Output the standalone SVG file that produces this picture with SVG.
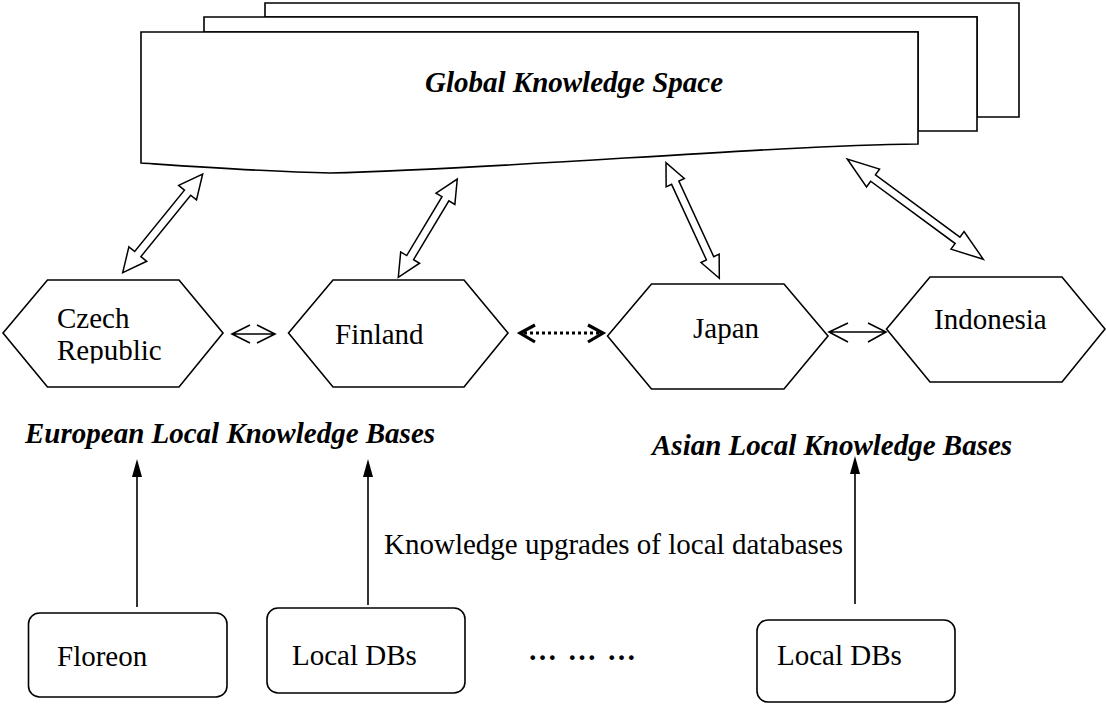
<svg xmlns="http://www.w3.org/2000/svg" width="1106" height="704" viewBox="0 0 1106 704">
<style>
.ln{fill:none;stroke:#000;stroke-width:1.6}
.shape{fill:#fff;stroke:#000;stroke-width:1.6}
.blk{fill:#fff;stroke:#000;stroke-width:1.5;stroke-linejoin:miter}
.t{font-family:"Liberation Serif","Times New Roman",serif;font-size:29px;fill:#000}
.bi{font-weight:bold;font-style:italic}
</style>
<defs>
<clipPath id="czclip"><rect x="0" y="0" width="240" height="363.5"/></clipPath>
</defs>
<g id="global-space">
<path class="shape" d="M265,3 H1019 V117 H977 V17 H265 Z"/>
<path class="shape" d="M204,17 H977 V131 H918 V32 H204 Z"/>
<path class="shape" d="M141,32 H918 V144 C760,146 520,168 330,173 C270,172 200,167 141,163 Z"/>
<text class="t bi" x="425" y="92">Global Knowledge Space</text>
</g>
<g id="connectors">
<path class="blk" transform="translate(122.7,272.7) rotate(-50.97)" d="M0,0 L24,-11.5 L24,-4 L103,-4 L103,-11.5 L127,0 L103,11.5 L103,4 L24,4 L24,11.5 Z"/>
<path class="blk" transform="translate(398.3,277.3) rotate(-59.03)" d="M0,0 L23,-11 L23,-4 L91.6,-4 L91.6,-11 L114.6,0 L91.6,11 L91.6,4 L23,4 L23,11 Z"/>
<path class="blk" transform="translate(719.3,278.3) rotate(-114.75)" d="M0,0 L22,-10 L22,-4 L105.3,-4 L105.3,-10 L127.3,0 L105.3,10 L105.3,4 L22,4 L22,10 Z"/>
<path class="blk" transform="translate(983.3,259.3) rotate(-143.6)" d="M0,0 L32,-11 L32,-4 L137,-4 L137,-11 L169,0 L137,11 L137,4 L32,4 L32,11 Z"/>
<path class="ln" d="M232,334 H275 M250,325 L232,334 L250,343 M257,325 L275,334 L257,343"/>
<path class="ln" d="M829,332 H886 M848,323 L829,332 L848,342 M868,323 L886,332 L868,342"/>
<path fill="none" stroke="#000" stroke-width="3" stroke-dasharray="3,3" d="M524,333 H600"/>
<path fill="none" stroke="#000" stroke-width="3.2" d="M535,325 L520,333 L535,342 M588,325 L603,333 L588,342"/>
<path class="ln" d="M137,607 V470 M368,605 V470 M855,604 V467"/>
<polygon points="137,459 132,477 142,477" fill="#000"/>
<polygon points="368,459 363,477 373,477" fill="#000"/>
<polygon points="855,456 850,474 860,474" fill="#000"/>
</g>
<g id="czech">
<polygon class="shape" points="3,333 47.5,280 179,280 223,333 179,387 47.5,387"/>
<g clip-path="url(#czclip)">
<text class="t" x="57" y="328">Czech</text>
<text class="t" x="57" y="360">Republic</text>
</g>
</g>
<g id="finland">
<polygon class="shape" points="288.5,333 333,280 464,280 508,333 464,387 333,387"/>
<text class="t" x="335" y="344">Finland</text>
</g>
<g id="japan">
<polygon class="shape" points="607.5,336 651.5,284 784,284 828,336 784,389 651.5,389"/>
<text class="t" x="693" y="338">Japan</text>
</g>
<g id="indonesia">
<polygon class="shape" points="886.5,329 930,277 1062,277 1105,329 1062,382 930,382"/>
<text class="t" x="934" y="329">Indonesia</text>
</g>
<g id="labels">
<text class="t bi" x="25" y="443">European Local Knowledge Bases</text>
<text class="t bi" x="652" y="455">Asian Local Knowledge Bases</text>
<text class="t" x="384" y="554">Knowledge upgrades of local databases</text>
</g>
<g id="floreon">
<rect class="shape" x="28.5" y="613" width="198.5" height="84" rx="11"/>
<text class="t" x="57" y="666">Floreon</text>
</g>
<g id="localdbs1">
<rect class="shape" x="267" y="608" width="198" height="85" rx="11"/>
<text class="t" x="292" y="665">Local DBs</text>
</g>
<g id="ellipsis">
<text class="t" font-weight="bold" x="528" y="660" textLength="108" lengthAdjust="spacing">… … …</text>
</g>
<g id="localdbs2">
<rect class="shape" x="757" y="620" width="198" height="82" rx="11"/>
<text class="t" x="777" y="665">Local DBs</text>
</g>
</svg>
